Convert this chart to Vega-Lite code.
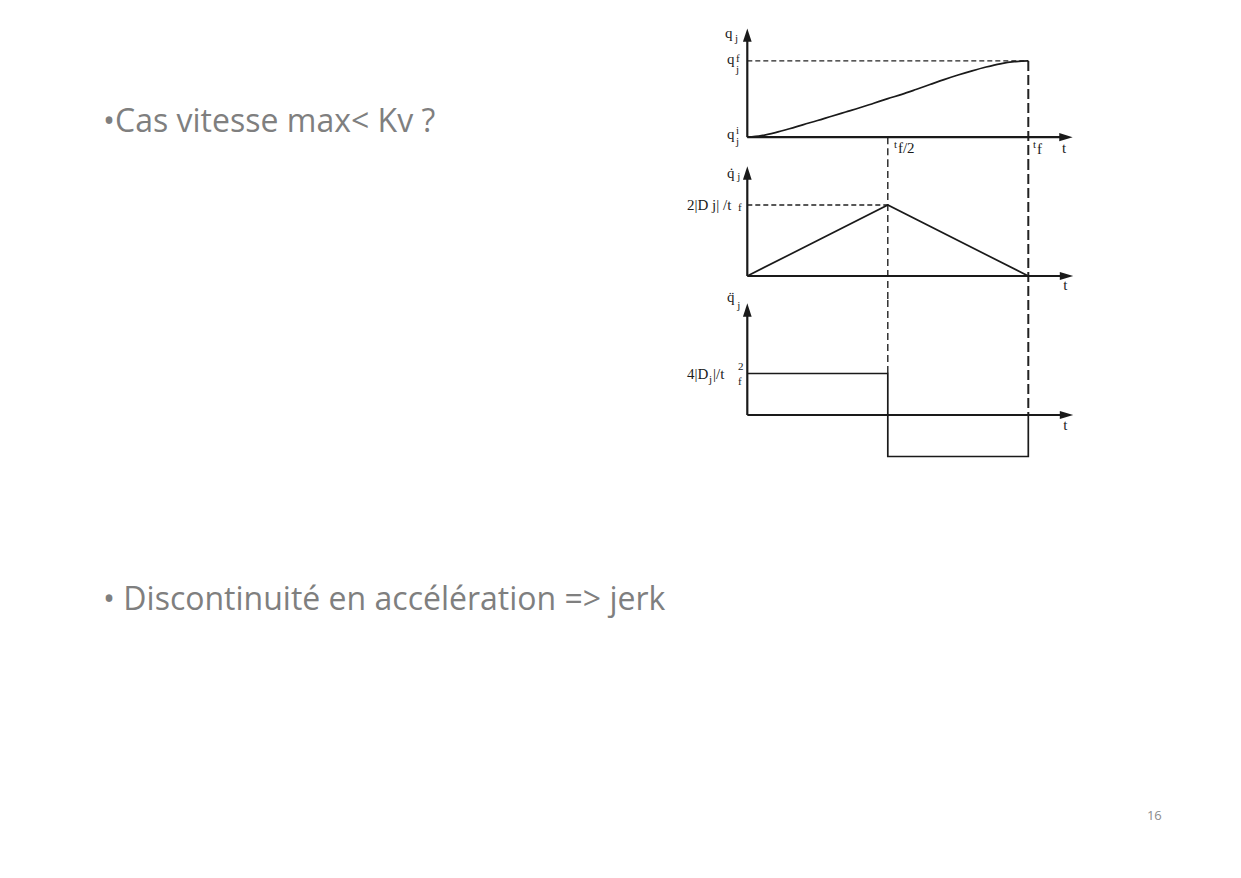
{
  "$schema": "https://vega.github.io/schema/vega-lite/v6.json",
  "padding": 0,
  "background": "white",
  "config": {"view": {"stroke": null}, "axis": {"disable": true}, "legend": {"disable": true}},
  "datasets": {
    "slideText": [
      {"text": "•Cas vitesse max< Kv ?", "x": 0.1554, "y": 0.1503},
      {"text": "• Discontinuité en accélération => jerk", "x": 0.1554, "y": 0.6948}
    ],
    "pageText": [{"text": "16", "x": 0.861, "y": 0.858}],
    "curves": [
      {"p": 1, "i": 0, "t": 0, "v": 0},
      {"p": 1, "i": 1, "t": 0.05, "v": 0.02},
      {"p": 1, "i": 2, "t": 0.1, "v": 0.06},
      {"p": 1, "i": 3, "t": 0.15, "v": 0.11},
      {"p": 1, "i": 4, "t": 0.2, "v": 0.165},
      {"p": 1, "i": 5, "t": 0.25, "v": 0.218},
      {"p": 1, "i": 6, "t": 0.3, "v": 0.275},
      {"p": 1, "i": 7, "t": 0.35, "v": 0.33},
      {"p": 1, "i": 8, "t": 0.4, "v": 0.385},
      {"p": 1, "i": 9, "t": 0.45, "v": 0.445},
      {"p": 1, "i": 10, "t": 0.5, "v": 0.505},
      {"p": 1, "i": 11, "t": 0.55, "v": 0.562},
      {"p": 1, "i": 12, "t": 0.6, "v": 0.625},
      {"p": 1, "i": 13, "t": 0.65, "v": 0.69},
      {"p": 1, "i": 14, "t": 0.7, "v": 0.755},
      {"p": 1, "i": 15, "t": 0.75, "v": 0.815},
      {"p": 1, "i": 16, "t": 0.8, "v": 0.87},
      {"p": 1, "i": 17, "t": 0.85, "v": 0.92},
      {"p": 1, "i": 18, "t": 0.9, "v": 0.962},
      {"p": 1, "i": 19, "t": 0.95, "v": 0.99},
      {"p": 1, "i": 20, "t": 1.0, "v": 1.0},
      {"p": 2, "i": 0, "t": 0, "v": 0},
      {"p": 2, "i": 1, "t": 0.5, "v": 2},
      {"p": 2, "i": 2, "t": 1, "v": 0},
      {"p": 3, "i": 0, "t": 0, "v": 4},
      {"p": 3, "i": 1, "t": 0.5, "v": 4},
      {"p": 3, "i": 2, "t": 0.5, "v": -4},
      {"p": 3, "i": 3, "t": 1, "v": -4},
      {"p": 3, "i": 4, "t": 1, "v": 0}
    ],
    "guides": [
      {"p": 1, "kind": "mid", "t": 0.5, "v": 0, "t2": 0.5, "v2": -0.3},
      {"p": 1, "kind": "end", "t": 1, "v": 1, "t2": 1, "v2": -0.3},
      {"p": 1, "kind": "level", "t": 0, "v": 1, "t2": 1, "v2": 1},
      {"p": 2, "kind": "mid", "t": 0.5, "v": 3.268, "t2": 0.5, "v2": -0.676},
      {"p": 2, "kind": "end", "t": 1, "v": 3.268, "t2": 1, "v2": -0.676},
      {"p": 2, "kind": "level", "t": 0, "v": 2, "t2": 0.5, "v2": 2},
      {"p": 3, "kind": "mid", "t": 0.5, "v": 11.084, "t2": 0.5, "v2": 4},
      {"p": 3, "kind": "end", "t": 1, "v": 11.084, "t2": 1, "v2": 0}
    ],
    "axes": [
      {"p": 1, "t": 0, "v": 0, "t2": 1.13, "v2": 0},
      {"p": 1, "t": 0, "v": 0, "t2": 0, "v2": 1.34},
      {"p": 2, "t": 0, "v": 0, "t2": 1.13, "v2": 0},
      {"p": 2, "t": 0, "v": 0, "t2": 0, "v2": 2.9},
      {"p": 3, "t": 0, "v": 0, "t2": 1.13, "v2": 0},
      {"p": 3, "t": 0, "v": 0, "t2": 0, "v2": 10.1}
    ],
    "arrows": [
      {"p": 1, "dir": "right", "t": 1.134, "v": 0},
      {"p": 1, "dir": "up", "t": 0, "v": 1.339},
      {"p": 2, "dir": "right", "t": 1.136, "v": 0},
      {"p": 2, "dir": "up", "t": 0, "v": 2.901},
      {"p": 3, "dir": "right", "t": 1.136, "v": 0},
      {"p": 3, "dir": "up", "t": 0, "v": 10.12}
    ],
    "labels": [
      {"p": 1, "kind": "main", "text": "q", "t": -0.0794, "v": 1.301},
      {"p": 1, "kind": "script", "text": "j", "t": -0.044, "v": 1.248},
      {"p": 1, "kind": "main", "text": "q", "t": -0.0723, "v": 0.959},
      {"p": 1, "kind": "script", "text": "f", "t": -0.040, "v": 0.986},
      {"p": 1, "kind": "script", "text": "j", "t": -0.040, "v": 0.841},
      {"p": 1, "kind": "main", "text": "q", "t": -0.0723, "v": -0.025},
      {"p": 1, "kind": "script", "text": "i", "t": -0.040, "v": 0.041},
      {"p": 1, "kind": "script", "text": "j", "t": -0.040, "v": -0.104},
      {"p": 1, "kind": "script", "text": "t", "t": 0.522, "v": -0.143},
      {"p": 1, "kind": "main", "text": "f/2", "t": 0.536, "v": -0.207},
      {"p": 1, "kind": "script", "text": "t", "t": 1.017, "v": -0.143},
      {"p": 1, "kind": "main", "text": "f", "t": 1.031, "v": -0.221},
      {"p": 1, "kind": "main", "text": "t", "t": 1.12, "v": -0.207},
      {"p": 2, "kind": "main", "text": "q̇", "t": -0.0723, "v": 2.76},
      {"p": 2, "kind": "script", "text": "j", "t": -0.036, "v": 2.70},
      {"p": 2, "kind": "main", "text": "2|D j| /t", "t": -0.2146, "v": 1.859},
      {"p": 2, "kind": "script", "text": "f", "t": -0.033, "v": 1.831},
      {"p": 2, "kind": "main", "text": "t", "t": 1.124, "v": -0.394},
      {"p": 3, "kind": "main", "text": "q̈", "t": -0.0723, "v": 10.89},
      {"p": 3, "kind": "script", "text": "j", "t": -0.036, "v": 10.22},
      {"p": 3, "kind": "main", "text": "4|D", "t": -0.2146, "v": 3.47},
      {"p": 3, "kind": "script", "text": "j", "t": -0.136, "v": 3.084},
      {"p": 3, "kind": "main", "text": "|/t", "t": -0.122, "v": 3.47},
      {"p": 3, "kind": "script", "text": "2", "t": -0.033, "v": 4.337},
      {"p": 3, "kind": "script", "text": "f", "t": -0.033, "v": 2.892},
      {"p": 3, "kind": "main", "text": "t", "t": 1.124, "v": -1.446}
    ]
  },
  "spacing": 0,
  "bounds": "flush",
  "resolve": {"scale": {"x": "independent", "y": "independent"}},
  "hconcat": [
    {
      "width": 663,
      "height": 878,
      "data": {"name": "slideText"},
      "mark": {"type": "text", "font": "Open Sans", "fontSize": 32, "color": "#7f7f7f", "align": "left", "baseline": "alphabetic"},
      "encoding": {
        "x": {"field": "x", "type": "quantitative", "scale": {"domain": [0, 1], "nice": false, "zero": false}},
        "y": {"field": "y", "type": "quantitative", "scale": {"domain": [0, 1], "reverse": true, "nice": false, "zero": false}},
        "text": {"field": "text"}
      }
    },
    {
      "spacing": 0,
      "bounds": "flush",
      "resolve": {"scale": {"x": "independent", "y": "independent"}},
      "vconcat": [
        {
          "width": 562,
          "height": 160,
          "encoding": {
            "x": {"field": "t", "type": "quantitative", "scale": {"domain": [-0.3, 1.7], "nice": false, "zero": false}},
            "y": {"field": "v", "type": "quantitative", "scale": {"domain": [-0.3, 1.8], "nice": false, "zero": false}}
          },
          "layer": [
            {"data": {"name": "guides"}, "transform": [{"filter": "datum.p == 1 && datum.kind == 'mid'"}], "mark": {"type": "rule", "color": "#222", "strokeWidth": 1.4, "strokeDash": [7, 4]}, "encoding": {"x2": {"field": "t2"}, "y2": {"field": "v2"}}},
            {"data": {"name": "guides"}, "transform": [{"filter": "datum.p == 1 && datum.kind == 'end'"}], "mark": {"type": "rule", "color": "#222", "strokeWidth": 2, "strokeDash": [10, 4]}, "encoding": {"x2": {"field": "t2"}, "y2": {"field": "v2"}}},
            {"data": {"name": "guides"}, "transform": [{"filter": "datum.p == 1 && datum.kind == 'level'"}], "mark": {"type": "rule", "color": "#222", "strokeWidth": 1.3, "strokeDash": [5, 3]}, "encoding": {"x2": {"field": "t2"}, "y2": {"field": "v2"}}},
            {"data": {"name": "axes"}, "transform": [{"filter": "datum.p == 1"}], "mark": {"type": "rule", "color": "#1a1a1a", "strokeWidth": 2.2}, "encoding": {"x2": {"field": "t2"}, "y2": {"field": "v2"}}},
            {"data": {"name": "arrows"}, "transform": [{"filter": "datum.p == 1"}], "mark": {"type": "point", "filled": true, "color": "#1a1a1a", "opacity": 1}, "encoding": {"shape": {"field": "dir", "type": "nominal", "scale": {"domain": ["right", "up"], "range": ["M1,0L-1,0.6L-1,-0.6Z", "M0,-1L0.65,1L-0.65,1Z"]}}, "size": {"value": 180}}},
            {"data": {"name": "curves"}, "transform": [{"filter": "datum.p == 1"}], "mark": {"type": "line", "color": "#1a1a1a", "strokeWidth": 1.7, "interpolate": "monotone"}, "encoding": {"order": {"field": "i", "type": "quantitative"}}},
            {"data": {"name": "labels"}, "transform": [{"filter": "datum.p == 1 && datum.kind == 'main'"}], "mark": {"type": "text", "font": "Liberation Serif", "fontSize": 15, "color": "#1a1a1a", "align": "left", "baseline": "alphabetic"}, "encoding": {"text": {"field": "text"}}},
            {"data": {"name": "labels"}, "transform": [{"filter": "datum.p == 1 && datum.kind == 'script'"}], "mark": {"type": "text", "font": "Liberation Serif", "fontSize": 11, "color": "#1a1a1a", "align": "left", "baseline": "alphabetic"}, "encoding": {"text": {"field": "text"}}}
          ]
        },
        {
          "width": 562,
          "height": 140,
          "encoding": {
            "x": {"field": "t", "type": "quantitative", "scale": {"domain": [-0.3, 1.7], "nice": false, "zero": false}},
            "y": {"field": "v", "type": "quantitative", "scale": {"domain": [-0.676, 3.268], "nice": false, "zero": false}}
          },
          "layer": [
            {"data": {"name": "guides"}, "transform": [{"filter": "datum.p == 2 && datum.kind == 'mid'"}], "mark": {"type": "rule", "color": "#222", "strokeWidth": 1.4, "strokeDash": [7, 4]}, "encoding": {"x2": {"field": "t2"}, "y2": {"field": "v2"}}},
            {"data": {"name": "guides"}, "transform": [{"filter": "datum.p == 2 && datum.kind == 'end'"}], "mark": {"type": "rule", "color": "#222", "strokeWidth": 2, "strokeDash": [10, 4]}, "encoding": {"x2": {"field": "t2"}, "y2": {"field": "v2"}}},
            {"data": {"name": "guides"}, "transform": [{"filter": "datum.p == 2 && datum.kind == 'level'"}], "mark": {"type": "rule", "color": "#222", "strokeWidth": 1.5, "strokeDash": [5, 3]}, "encoding": {"x2": {"field": "t2"}, "y2": {"field": "v2"}}},
            {"data": {"name": "axes"}, "transform": [{"filter": "datum.p == 2"}], "mark": {"type": "rule", "color": "#1a1a1a", "strokeWidth": 2.2}, "encoding": {"x2": {"field": "t2"}, "y2": {"field": "v2"}}},
            {"data": {"name": "arrows"}, "transform": [{"filter": "datum.p == 2"}], "mark": {"type": "point", "filled": true, "color": "#1a1a1a", "opacity": 1}, "encoding": {"shape": {"field": "dir", "type": "nominal", "scale": {"domain": ["right", "up"], "range": ["M1,0L-1,0.6L-1,-0.6Z", "M0,-1L0.65,1L-0.65,1Z"]}}, "size": {"value": 180}}},
            {"data": {"name": "curves"}, "transform": [{"filter": "datum.p == 2"}], "mark": {"type": "line", "color": "#1a1a1a", "strokeWidth": 1.7}, "encoding": {"order": {"field": "i", "type": "quantitative"}}},
            {"data": {"name": "labels"}, "transform": [{"filter": "datum.p == 2 && datum.kind == 'main'"}], "mark": {"type": "text", "font": "Liberation Serif", "fontSize": 15, "color": "#1a1a1a", "align": "left", "baseline": "alphabetic"}, "encoding": {"text": {"field": "text"}}},
            {"data": {"name": "labels"}, "transform": [{"filter": "datum.p == 2 && datum.kind == 'script'"}], "mark": {"type": "text", "font": "Liberation Serif", "fontSize": 11, "color": "#1a1a1a", "align": "left", "baseline": "alphabetic"}, "encoding": {"text": {"field": "text"}}}
          ]
        },
        {
          "width": 562,
          "height": 170,
          "encoding": {
            "x": {"field": "t", "type": "quantitative", "scale": {"domain": [-0.3, 1.7], "nice": false, "zero": false}},
            "y": {"field": "v", "type": "quantitative", "scale": {"domain": [-5.301, 11.084], "nice": false, "zero": false}}
          },
          "layer": [
            {"data": {"name": "guides"}, "transform": [{"filter": "datum.p == 3 && datum.kind == 'mid'"}], "mark": {"type": "rule", "color": "#222", "strokeWidth": 1.4, "strokeDash": [7, 4]}, "encoding": {"x2": {"field": "t2"}, "y2": {"field": "v2"}}},
            {"data": {"name": "guides"}, "transform": [{"filter": "datum.p == 3 && datum.kind == 'end'"}], "mark": {"type": "rule", "color": "#222", "strokeWidth": 2, "strokeDash": [10, 4]}, "encoding": {"x2": {"field": "t2"}, "y2": {"field": "v2"}}},
            {"data": {"name": "axes"}, "transform": [{"filter": "datum.p == 3"}], "mark": {"type": "rule", "color": "#1a1a1a", "strokeWidth": 2.2}, "encoding": {"x2": {"field": "t2"}, "y2": {"field": "v2"}}},
            {"data": {"name": "arrows"}, "transform": [{"filter": "datum.p == 3"}], "mark": {"type": "point", "filled": true, "color": "#1a1a1a", "opacity": 1}, "encoding": {"shape": {"field": "dir", "type": "nominal", "scale": {"domain": ["right", "up"], "range": ["M1,0L-1,0.6L-1,-0.6Z", "M0,-1L0.65,1L-0.65,1Z"]}}, "size": {"value": 180}}},
            {"data": {"name": "curves"}, "transform": [{"filter": "datum.p == 3"}], "mark": {"type": "line", "color": "#1a1a1a", "strokeWidth": 1.7}, "encoding": {"order": {"field": "i", "type": "quantitative"}}},
            {"data": {"name": "labels"}, "transform": [{"filter": "datum.p == 3 && datum.kind == 'main'"}], "mark": {"type": "text", "font": "Liberation Serif", "fontSize": 15, "color": "#1a1a1a", "align": "left", "baseline": "alphabetic"}, "encoding": {"text": {"field": "text"}}},
            {"data": {"name": "labels"}, "transform": [{"filter": "datum.p == 3 && datum.kind == 'script'"}], "mark": {"type": "text", "font": "Liberation Serif", "fontSize": 11, "color": "#1a1a1a", "align": "left", "baseline": "alphabetic"}, "encoding": {"text": {"field": "text"}}}
          ]
        },
        {
          "width": 562,
          "height": 408,
          "data": {"name": "pageText"},
          "mark": {"type": "text", "font": "Open Sans", "fontSize": 13, "color": "#8c8c8c", "align": "left", "baseline": "alphabetic"},
          "encoding": {
            "x": {"field": "x", "type": "quantitative", "scale": {"domain": [0, 1], "nice": false, "zero": false}},
            "y": {"field": "y", "type": "quantitative", "scale": {"domain": [0, 1], "reverse": true, "nice": false, "zero": false}},
            "text": {"field": "text"}
          }
        }
      ]
    }
  ]
}
